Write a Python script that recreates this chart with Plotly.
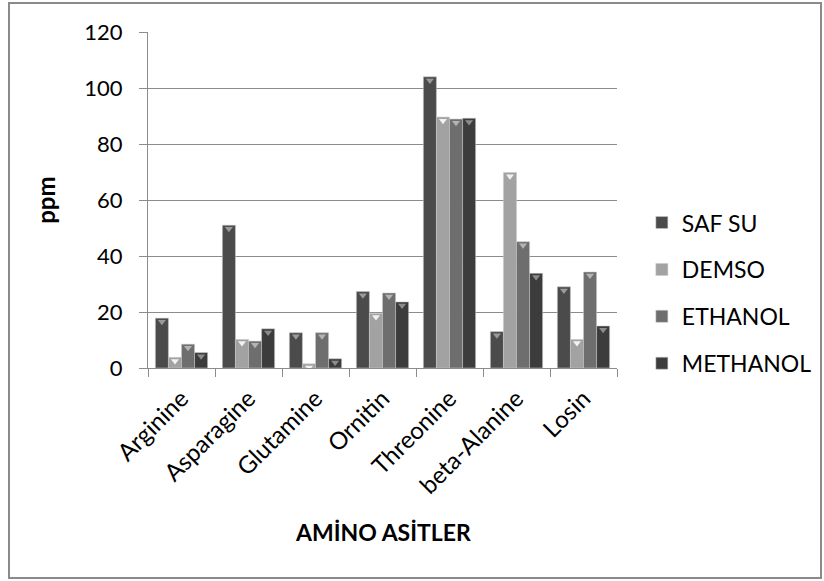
import plotly.graph_objects as go

# Amino acid concentrations (ppm) by extraction solvent
categories = ["Arginine", "Asparagine", "Glutamine", "Ornitin", "Threonine", "beta-Alanine", "Losin"]
saf_su = [17.8, 51.0, 12.6, 27.3, 104.0, 13.0, 29.0]
demso = [3.8, 10.2, 1.5, 19.5, 89.6, 69.8, 10.2]
ethanol = [8.5, 9.6, 12.6, 26.8, 88.9, 45.1, 34.3]
methanol = [5.5, 14.0, 3.3, 23.6, 89.2, 33.8, 15.0]

series_names = ["SAF SU", "DEMSO", "ETHANOL", "METHANOL"]
series_values = [saf_su, demso, ethanol, methanol]
bar_colors = ["#4b4b4b", "#a2a2a2", "#6e6e6e", "#3c3c3c"]
cap_colors = ["#9a9a9a", "#f2f2f2", "#b4b4b4", "#8c8c8c"]

FONT = "Lato, 'Open Sans', sans-serif"
GRID = "#8c8c8c"
BARGAP = 0.22

fig = go.Figure()

for name, vals, col in zip(series_names, series_values, bar_colors):
    fig.add_trace(go.Bar(
        x=categories, y=vals, name=name,
        marker=dict(color=col, line=dict(color="rgba(200,200,200,0.55)", width=1)),
        legendgroup=name,
    ))

# small bevel triangles at the top of each bar
n = len(series_names)
bw = (1 - BARGAP) / n
for k, (vals, cc) in enumerate(zip(series_values, cap_colors)):
    xs = [i - (1 - BARGAP) / 2 + bw * (k + 0.5) for i in range(len(categories))]
    ys = [v - 1.3 for v in vals]
    fig.add_trace(go.Scatter(
        x=xs, y=ys, xaxis="x2", mode="markers",
        marker=dict(symbol="triangle-down", size=7, color=cc, line=dict(width=0)),
        showlegend=False, hoverinfo="skip",
    ))

fig.update_layout(
    width=824, height=581, autosize=False,
    margin=dict(l=148, r=207, t=32, b=213, autoexpand=False),
    paper_bgcolor="white", plot_bgcolor="white",
    barmode="group", bargap=BARGAP, bargroupgap=0,
    font=dict(family=FONT, color="black"),
    xaxis=dict(
        type="category", showline=True, linecolor=GRID, linewidth=1,
        ticks="outside", tickson="boundaries", ticklen=8, tickcolor=GRID,
        tickangle=-45, tickfont=dict(size=24, family=FONT, color="black"),
        ticklabelstandoff=6,
        showgrid=False, range=[-0.5, 6.5],
    ),
    xaxis2=dict(overlaying="x", range=[-0.5, 6.5], visible=False),
    yaxis=dict(
        range=[0, 120], dtick=20, showgrid=True, gridcolor=GRID, gridwidth=1,
        showline=True, linecolor=GRID, linewidth=1, zeroline=False,
        ticks="outside", ticklen=8, tickcolor=GRID, ticklabelstandoff=12,
        tickfont=dict(size=22, family=FONT, color="black"),
    ),
    legend=dict(
        x=1.053, y=0.223, xanchor="left", yanchor="middle",
        font=dict(size=23, family=FONT, color="black"),
        tracegroupgap=14, itemwidth=30, bgcolor="rgba(0,0,0,0)",
    ),
    annotations=[
        dict(text="<b>AMİNO ASİTLER</b>", xref="paper", yref="paper",
             x=0.5, y=-0.487, xanchor="center", yanchor="middle",
             showarrow=False, font=dict(size=23, family=FONT, color="black")),
        dict(text="<b>ppm</b>", xref="paper", yref="paper",
             x=-0.220, y=0.5, xanchor="center", yanchor="middle", textangle=-90,
             showarrow=False, font=dict(size=24, family=FONT, color="black")),
    ],
    shapes=[
        dict(type="rect", xref="paper", yref="paper",
             x0=-0.2964, x1=1.435, y0=-0.625, y1=1.0863,
             line=dict(color="#8a8a8a", width=2), fillcolor="rgba(0,0,0,0)"),
    ],
)

fig.write_html("out.html")
